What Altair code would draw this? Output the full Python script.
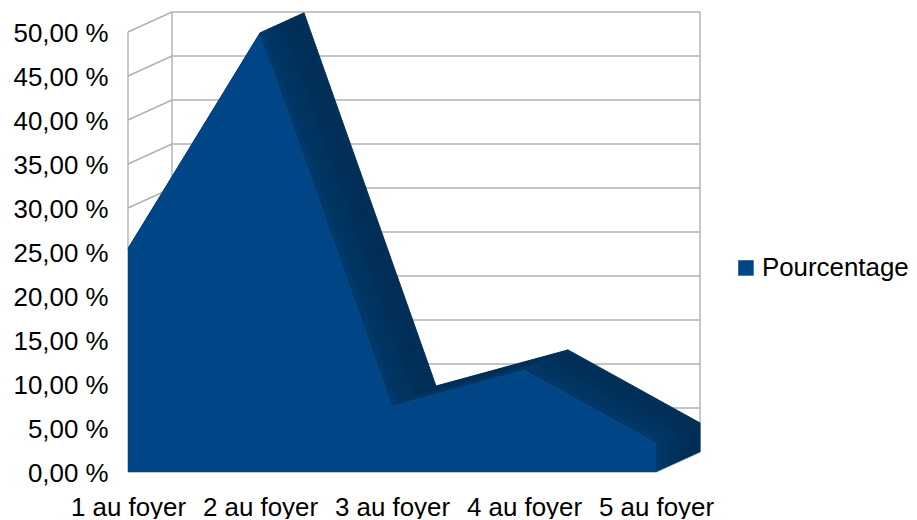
import altair as alt
import pandas as pd

categories = ["1 au foyer", "2 au foyer", "3 au foyer", "4 au foyer", "5 au foyer"]
values = [25.4, 49.9, 7.5, 11.6, 3.3]
ticks = [0, 5, 10, 15, 20, 25, 30, 35, 40, 45, 50]
series = "Pourcentage"

FONT = "Liberation Sans"
SIZE = 25.9
BLUE = "#004586"
DEPTH_COLORS = ["#00386a", "#003666", "#003562", "#00335f", "#00325d", "#00305a", "#002f58", "#002e56", "#002e56", "#002f57"]
GRID = "#b0b0b0"
DX = 1 / 3       # depth along x, in category units
DY = 20 / 8.8    # depth along y, in percent
XMAX = 4 + DX
YMAX = 50 + DY

x = alt.X("x:Q", scale=alt.Scale(domain=[0, XMAX], nice=False, zero=False), title=None,
          axis=alt.Axis(values=list(range(5)), grid=False, domain=False, ticks=False,
                        labelExpr=str(categories) + "[datum.value]",
                        labelFont=FONT, labelFontSize=SIZE, labelColor="#000000",
                        labelPadding=23, labelOverlap=False, labelFlush=False))
y = alt.Y("y:Q", scale=alt.Scale(domain=[0, YMAX], nice=False, zero=False), title=None,
          axis=alt.Axis(values=ticks, grid=False, domain=False, ticks=False,
                        labelExpr="replace(format(datum.value,'.2f'),'.',',') + ' %'",
                        labelFont=FONT, labelFontSize=SIZE, labelColor="#000000",
                        labelPadding=20, labelOverlap=False, labelOffset=1))

walls = []
for t in ticks:
    walls.append({"x": 0, "y": t, "x2": DX, "y2": t + DY})
    walls.append({"x": DX, "y": t + DY, "x2": XMAX, "y2": t + DY})
walls.append({"x": 0, "y": 0, "x2": 0, "y2": 50})
walls.append({"x": DX, "y": DY, "x2": DX, "y2": YMAX})
walls.append({"x": XMAX, "y": DY, "x2": XMAX, "y2": YMAX})
walls.append({"x": 0, "y": 0, "x2": 4, "y2": 0})
walls.append({"x": 4, "y": 0, "x2": XMAX, "y2": DY})
grid = alt.Chart(pd.DataFrame(walls)).mark_rule(color=GRID, strokeWidth=1.4).encode(
    x=x, y=y, x2="x2:Q", y2="y2:Q")


def band(j, color):
    n = len(DEPTH_COLORS)
    t0, t1 = j / n, (j + 1) / n
    rows = []
    for i in range(4):
        a, b = values[i], values[i + 1]
        pts = [(i + t0 * DX, a + t0 * DY), (i + 1 + t0 * DX, b + t0 * DY),
               (i + 1 + t1 * DX, b + t1 * DY), (i + t1 * DX, a + t1 * DY)]
        for k, (px, py) in enumerate(pts):
            rows.append({"x": px, "y": py, "seg": i, "k": k})
    a = values[-1]
    pts = [(4 + t0 * DX, t0 * DY), (4 + t0 * DX, a + t0 * DY),
           (4 + t1 * DX, a + t1 * DY), (4 + t1 * DX, t1 * DY)]
    for k, (px, py) in enumerate(pts):
        rows.append({"x": px, "y": py, "seg": 4, "k": k})
    return alt.Chart(pd.DataFrame(rows)).mark_line(fill=color, stroke=color, strokeWidth=1).encode(
        x=x, y=y, detail="seg:N", order="k:Q")


# painted from the back wall towards the viewer
bands = [band(j, c) for j, c in reversed(list(enumerate(DEPTH_COLORS)))]

front = alt.Chart(pd.DataFrame({"x": range(5), "y": values, "s": [series] * 5})).mark_area(
    line=False, opacity=1).encode(
    x=x, y=y,
    color=alt.Color("s:N", scale=alt.Scale(domain=[series], range=[BLUE]),
                    legend=alt.Legend(title=None, orient="none", legendX=605, legendY=243,
                                      symbolType="square", symbolSize=240, symbolStrokeWidth=0,
                                      labelFont=FONT, labelFontSize=SIZE, labelColor="#000000",
                                      labelOffset=3)))

chart = alt.layer(grid, *bands, front).properties(
    width=572, height=460,
    autosize=alt.AutoSizeParams(type="none"),
    padding={"left": 120, "top": 4, "right": 209, "bottom": 47},
).configure_view(stroke=None)

chart.save("out.html", embed_options={"renderer": "svg", "actions": False})
